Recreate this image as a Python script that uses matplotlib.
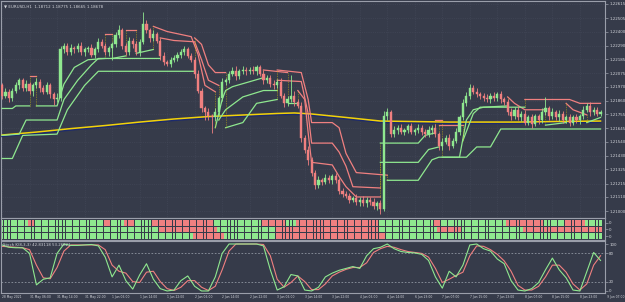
import matplotlib.pyplot as plt
import matplotlib.patheffects as pe
from matplotlib import font_manager as fm
import numpy as np

# EURUSD H1 closes, one per bar (28 May 22:00 -> 9 Jun)
closes = [
    1.2190, 1.2193, 1.2188, 1.2194, 1.2198, 1.2202, 1.2196, 1.2199, 1.2194, 1.2198,
    1.2201, 1.2196, 1.2193, 1.2198, 1.2191, 1.2187, 1.2188, 1.2226, 1.2229, 1.2224,
    1.2227, 1.2226, 1.2229, 1.2224, 1.2226, 1.2227, 1.2222, 1.2226, 1.2232, 1.2229,
    1.2224, 1.2227, 1.2230, 1.2237, 1.2241, 1.2229, 1.2224, 1.2233, 1.2230, 1.2224,
    1.2232, 1.2246, 1.2241, 1.2235, 1.2238, 1.2233, 1.2221, 1.2216, 1.2215, 1.2218,
    1.2219, 1.2222, 1.2224, 1.2226, 1.2221, 1.2218, 1.2207, 1.2194, 1.2180, 1.2177,
    1.2174, 1.2173, 1.2177, 1.2188, 1.2201, 1.2202, 1.2207, 1.2209, 1.2205, 1.2209,
    1.2210, 1.2209, 1.2210, 1.2209, 1.2212, 1.2207, 1.2202, 1.2204, 1.2199, 1.2198,
    1.2201, 1.2190, 1.2184, 1.2187, 1.2190, 1.2185, 1.2182, 1.2157, 1.2148, 1.2140,
    1.2130, 1.2120, 1.2124, 1.2123, 1.2126, 1.2124, 1.2127, 1.2124, 1.2116, 1.2113,
    1.2112, 1.2109, 1.2110, 1.2107, 1.2109, 1.2106, 1.2109, 1.2107, 1.2104, 1.2106,
    1.2102, 1.2174, 1.2177, 1.2160, 1.2163, 1.2165, 1.2162, 1.2163, 1.2166, 1.2162,
    1.2163, 1.2165, 1.2162, 1.2160, 1.2163, 1.2165, 1.2160, 1.2151, 1.2154, 1.2157,
    1.2151, 1.2155, 1.2162, 1.2173, 1.2184, 1.2190, 1.2196, 1.2193, 1.2191, 1.2190,
    1.2188, 1.2187, 1.2190, 1.2188, 1.2191, 1.2187, 1.2185, 1.2177, 1.2174, 1.2179,
    1.2173, 1.2176, 1.2169, 1.2173, 1.2168, 1.2174, 1.2171, 1.2177, 1.2180, 1.2174,
    1.2177, 1.2173, 1.2176, 1.2171, 1.2173, 1.2169, 1.2173, 1.2171, 1.2174, 1.2179,
    1.2182, 1.2177, 1.2179, 1.2176, 1.2177,
]
first_open = 1.2198
# wick lengths in pips above / below the body
wick_up = [
    2, 3, 2, 2, 3, 2, 2, 3, 2, 2, 3, 2, 2, 3, 2, 2, 4, 3, 2, 2, 3, 2, 2, 3, 2,
    2, 3, 2, 3, 2, 2, 2, 2, 3, 4, 2, 2, 3, 2, 3, 2, 9, 3, 2, 3, 2, 2, 3, 2, 2,
    3, 2, 2, 3, 2, 2, 2, 3, 2, 2, 3, 2, 3, 2, 3, 2, 2, 3, 4, 2, 3, 2, 2, 3, 2,
    2, 3, 2, 2, 3, 2, 3, 2, 3, 16, 4, 2, 3, 2, 3, 2, 2, 3, 2, 3, 2, 2, 3, 2, 2,
    3, 2, 2, 3, 2, 3, 2, 2, 3, 2, 3, 4, 3, 2, 3, 2, 3, 2, 2, 3, 2, 3, 2, 2, 3,
    2, 3, 2, 3, 2, 3, 2, 3, 2, 3, 3, 3, 2, 3, 2, 2, 3, 2, 3, 2, 3, 2, 2, 3, 2,
    3, 2, 3, 2, 3, 2, 2, 3, 9, 2, 3, 2, 3, 2, 2, 3, 2, 3, 2, 3, 2, 3, 2, 2, 2,
]
wick_dn = [
    3, 2, 3, 2, 2, 3, 2, 2, 3, 4, 2, 3, 2, 2, 3, 4, 2, 2, 3, 2, 2, 3, 2, 2, 3,
    2, 2, 3, 2, 2, 2, 3, 9, 2, 2, 3, 2, 2, 3, 2, 3, 2, 2, 3, 2, 2, 3, 2, 2, 3,
    2, 2, 3, 2, 2, 2, 3, 2, 3, 6, 3, 12, 3, 2, 2, 3, 2, 2, 3, 2, 2, 3, 2, 2, 3,
    2, 3, 2, 2, 3, 2, 2, 3, 2, 2, 3, 2, 3, 3, 4, 3, 3, 2, 3, 2, 2, 3, 2, 3, 2,
    2, 3, 2, 2, 3, 2, 3, 2, 2, 3, 4, 2, 3, 2, 2, 3, 2, 3, 2, 2, 3, 2, 3, 2, 2,
    3, 2, 3, 3, 2, 3, 2, 2, 3, 2, 2, 3, 2, 2, 3, 2, 2, 3, 2, 2, 3, 2, 2, 3, 2,
    2, 3, 2, 2, 3, 2, 3, 2, 2, 3, 2, 2, 3, 2, 2, 3, 2, 2, 3, 2, 2, 3, 2, 2, 2,
]

# slow moving average (bar, price)
ma_bar = [0, 10, 20, 30, 40, 50, 60, 70, 80, 85, 90, 100, 110, 120, 130, 140, 150, 160, 174]
ma_val = [1.21593, 1.21616, 1.21643, 1.21667, 1.21694, 1.21718, 1.21737, 1.21749, 1.21761,
          1.21765, 1.21757, 1.21730, 1.21702, 1.21698, 1.21694, 1.21694, 1.21694, 1.21698, 1.21702]

# three trailing-stop bands: segments of (colour, [(bar, price), ...])
band_fast = [
    ("g", [(0, 1.2180), (3, 1.2180), (4, 1.2182), (8, 1.2182)]),
    ("r", [(8, 1.2205), (10, 1.2205)]),
    ("g", [(10, 1.2182), (16, 1.2182), (18, 1.2199), (21, 1.2212), (25, 1.2218), (30, 1.2219)]),
    ("r", [(30, 1.2238), (32, 1.2238)]),
    ("g", [(32, 1.2219), (36, 1.2221)]),
    ("r", [(36, 1.2241), (39, 1.2241)]),
    ("g", [(39, 1.2223), (44, 1.2226)]),
    ("r", [(44, 1.2244), (48, 1.2240), (55, 1.2236), (57, 1.2222), (59, 1.2198), (62, 1.2193)]),
    ("g", [(62, 1.2165), (64, 1.2187), (65, 1.2194), (67, 1.2197), (76, 1.2204)]),
    ("r", [(76, 1.2210), (83, 1.2208)]),
    ("g", [(83, 1.2184), (86, 1.2184)]),
    ("r", [(86, 1.2194), (88, 1.2187), (89, 1.2161), (90, 1.2138), (96, 1.2136), (98, 1.2127),
           (100, 1.2119), (103, 1.2111), (110, 1.2111)]),
    ("g", [(110, 1.2153), (121, 1.2153), (123, 1.2159), (126, 1.2161)]),
    ("r", [(126, 1.2171), (128, 1.2171)]),
    ("g", [(128, 1.2142), (133, 1.2142), (135, 1.2171), (137, 1.2179), (140, 1.2181), (147, 1.2182)]),
    ("r", [(147, 1.2189), (149, 1.2184), (152, 1.2179), (158, 1.2179)]),
    ("g", [(158, 1.2167), (164, 1.2169)]),
    ("r", [(164, 1.2184), (166, 1.2179), (170, 1.2175)]),
    ("g", [(170, 1.2169), (174, 1.2173)]),
]
band_mid = [
    ("g", [(0, 1.2159), (5, 1.2160), (7, 1.2171), (16, 1.2171), (18, 1.2187), (22, 1.2202),
           (26, 1.2214), (28, 1.2219), (46, 1.2219)]),
    ("r", [(46, 1.2235), (50, 1.2233), (56, 1.2232), (58, 1.2218), (60, 1.2202), (63, 1.2198)]),
    ("g", [(63, 1.2171), (65, 1.2179), (70, 1.2189), (76, 1.2194), (80, 1.2194)]),
    ("r", [(80, 1.2202), (87, 1.2201), (89, 1.2176), (90, 1.2153), (96, 1.2153), (98, 1.2146),
           (100, 1.2135), (102, 1.2119), (110, 1.2118)]),
    ("g", [(110, 1.2138), (121, 1.2138), (124, 1.2148), (127, 1.2150)]),
    ("r", [(127, 1.2167), (134, 1.2167)]),
    ("g", [(134, 1.2155), (137, 1.2176), (139, 1.2181), (152, 1.2181)]),
    ("r", [(152, 1.2187), (165, 1.2187), (168, 1.2184), (174, 1.2184)]),
]
band_slow = [
    ("g", [(0, 1.2141), (3, 1.2141), (6, 1.2159), (16, 1.2160), (19, 1.2179), (24, 1.2198),
           (28, 1.2209), (56, 1.2209)]),
    ("r", [(56, 1.2235), (58, 1.2230), (60, 1.2214), (62, 1.2208), (65, 1.2208)]),
    ("g", [(65, 1.2165), (70, 1.2169), (74, 1.2184), (80, 1.2187)]),
    ("r", [(80, 1.2210), (87, 1.2208), (89, 1.2187), (90, 1.2169), (96, 1.2169), (98, 1.2165),
           (100, 1.2145), (103, 1.2130), (112, 1.2128)]),
    ("g", [(112, 1.2124), (121, 1.2124), (125, 1.2140), (127, 1.2142), (135, 1.2142), (138, 1.2150),
           (142, 1.2150), (145, 1.2164), (174, 1.2164)]),
]

# trend state rows (run lengths of bars)
row1_runs = [("g", 8), ("r", 2), ("g", 20), ("r", 2), ("g", 4), ("r", 3), ("g", 5), ("r", 18),
             ("g", 14), ("r", 7), ("g", 3), ("r", 24), ("g", 16), ("r", 2), ("g", 19), ("r", 11),
             ("g", 6), ("r", 6), ("g", 5)]
row2_runs = [("g", 46), ("r", 17), ("g", 17), ("r", 30), ("g", 17), ("r", 7), ("g", 18), ("r", 23)]
row3_runs = [("g", 56), ("r", 9), ("g", 15), ("r", 32), ("g", 63)]

# stochastic, sampled every 2 bars
stoch_bar = list(range(0, 175, 2))
stoch_k = [98, 93, 92, 92, 80, 13, 25, 28, 80, 100, 97, 97, 98, 99, 96, 72, 30, 55, 22, 4,
           34, 58, 25, 5, 0, 2, 22, 32, 10, 0, 0, 30, 80, 100, 100, 100, 100, 100, 96, 45,
           2, 9, 35, 32, 2, 0, 8, 30, 38, 44, 48, 52, 48, 75, 90, 93, 100, 90, 84, 82,
           81, 78, 65, 30, 6, 42, 30, 55, 98, 100, 90, 85, 68, 58, 22, 2, 0, 5, 18, 45,
           70, 45, 28, 2, 0, 41, 82, 65]
stoch_d = [95, 94, 93, 92, 88, 55, 28, 26, 50, 85, 98, 98, 98, 98, 98, 88, 55, 42, 38, 20,
           18, 40, 42, 20, 5, 1, 8, 22, 22, 8, 1, 10, 45, 85, 100, 100, 100, 100, 99, 75,
           25, 8, 18, 32, 20, 3, 3, 15, 32, 40, 46, 50, 50, 60, 82, 90, 95, 93, 88, 84,
           82, 80, 72, 48, 18, 25, 33, 40, 75, 96, 95, 88, 78, 64, 42, 12, 2, 2, 10, 30,
           55, 55, 40, 15, 2, 15, 55, 75]

price_ticks = [1.21000, 1.21110, 1.21215, 1.21325, 1.21430, 1.21540, 1.21645, 1.21755,
               1.21860, 1.21970, 1.22075, 1.22185, 1.22290, 1.22400, 1.22505, 1.22615]
time_labels = ["28 May 2021", "31 May 06:00", "31 May 14:00", "31 May 22:00", "1 Jun 06:00",
               "1 Jun 14:00", "1 Jun 22:00", "2 Jun 06:00", "2 Jun 14:00", "2 Jun 22:00",
               "3 Jun 06:00", "3 Jun 14:00", "3 Jun 22:00", "4 Jun 06:00", "4 Jun 14:00",
               "6 Jun 23:00", "7 Jun 07:00", "7 Jun 15:00", "7 Jun 23:00", "8 Jun 07:00",
               "8 Jun 15:00", "8 Jun 23:00", "9 Jun 07:00"]

bg = "#363b4a"
fg = "#d2d4da"
frame = "#9a9eaa"
green = "#8fe88f"
red = "#f08080"
flip_col = "#d8c000"
col = {"g": green, "r": red}

# narrow font for the crowded time axis if it exists
try:
    fm.findfont("Liberation Sans Narrow", fallback_to_default=False)
    tfam, tsize = "Liberation Sans Narrow", 2.9
except ValueError:
    tfam, tsize = "DejaVu Sans", 2.2

W, H = 625, 302


def box(x0, y0, x1, y1):
    return [x0 / W, 1 - y1 / H, (x1 - x0) / W, (y1 - y0) / H]


fig = plt.figure(figsize=(W / 100, H / 100), dpi=100, facecolor=bg)
ax = fig.add_axes(box(1, 1, 605, 218))
hx = fig.add_axes(box(1, 218, 605, 240), sharex=ax)
sx = fig.add_axes(box(1, 241, 605, 293), sharex=ax)

for a in (ax, hx, sx):
    a.set_facecolor(bg)
    for s in a.spines.values():
        s.set_color(frame)
        s.set_linewidth(0.8)
    a.tick_params(axis="x", bottom=False, labelbottom=False)
    a.yaxis.tick_right()
    a.tick_params(axis="y", colors=frame, labelcolor=fg, labelsize=2.9, length=2, width=0.5, pad=1)

ax.set_xlim(-0.3, 175.3)

# ---- main price panel
n = len(closes)
idx = np.arange(n)
c = np.array(closes)
o = np.array([first_open] + closes[:-1])
hi = np.maximum(o, c) + np.array(wick_up) / 1e4
lo = np.minimum(o, c) - np.array(wick_dn) / 1e4
cc = [green if cv >= ov else red for ov, cv in zip(o, c)]

ax.set_ylim(1.20946, 1.22638)
ax.set_yticks(price_ticks)
ax.set_yticklabels([f"{p:.5f}" for p in price_ticks])
ax.grid(True, axis="both", color="#454a5b", linestyle=":", linewidth=0.5)
ax.set_xticks(range(0, 176, 8))

ax.plot(ma_bar, ma_val, color="#f2d20a", lw=1.1, zorder=3,
        path_effects=[pe.SimpleLineShadow(offset=(0, -1), shadow_color="#1c2a6e", alpha=1),
                      pe.Normal()])

for band in (band_fast, band_mid, band_slow):
    prev = None
    for cl, pts in band:
        bx, by = zip(*pts)
        ax.plot(bx, by, color=col[cl], lw=0.9, zorder=4)
        if prev is not None:
            # dotted marker where the band switches side
            ax.plot([bx[0], bx[0]], [prev, by[0]], color=flip_col, lw=0.5,
                    ls=(0, (1, 1.5)), alpha=0.85, zorder=4)
        prev = by[-1]

ax.vlines(idx, lo, hi, color=cc, lw=0.6, zorder=5)
ax.bar(idx, c - o, bottom=o, width=0.62, color=cc, edgecolor=cc, linewidth=0.3, zorder=6)

ax.text(0.005, 0.985, "\u25bc EURUSD,H1  1.18712 1.18775 1.18665 1.18678", transform=ax.transAxes,
        color=fg, fontsize=2.9, va="top", ha="left")

# ---- trend state rows
hx.set_ylim(22, 0)
hx.set_yticks([4.8, 11.4, 18.0])
hx.set_yticklabels(["0", "0", "0"])
for r, runs in enumerate((row1_runs, row2_runs, row3_runs)):
    start = 0
    for cl, ln in runs:
        xs = np.arange(start, start + ln)
        hx.bar(xs, 5.6, bottom=2.0 + 6.6 * r, width=0.82, color=col[cl], linewidth=0)
        start += ln

# ---- stochastic
sx.set_ylim(-4.3, 106.4)
sx.set_yticks([0, 20, 80, 100])
sx.set_yticklabels(["0", "20", "80", "100"])
for lvl in (20, 80):
    sx.axhline(lvl, color="#9096a2", ls=(0, (2, 2)), lw=0.6)
sx.plot(stoch_bar, stoch_d, color=red, lw=0.8)
sx.plot(stoch_bar, stoch_k, color=green, lw=0.8)
sx.text(0.003, 0.97, "Stoch K(8,3,3) 42.83118 53.26821", transform=sx.transAxes,
        color=fg, fontsize=2.8, va="top", ha="left")

tr = sx.get_xaxis_transform()
for k, lab in enumerate(time_labels):
    sx.text(k * 8, -0.08, lab, transform=tr, color=fg, fontsize=tsize, family=tfam,
            ha="left", va="center", clip_on=False)

fig.savefig("out.png", dpi=100, facecolor=bg)
